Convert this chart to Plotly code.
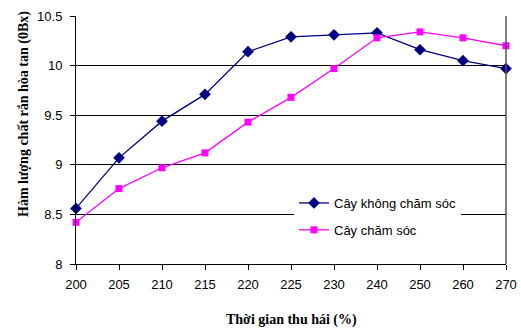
import plotly.graph_objects as go

categories = ["200", "205", "210", "215", "220", "225", "230", "240", "250", "260", "270"]
khong_cham_soc = [8.56, 9.07, 9.44, 9.71, 10.14, 10.29, 10.31, 10.33, 10.16, 10.05, 9.97]
cham_soc = [8.42, 8.76, 8.97, 9.12, 9.43, 9.68, 9.97, 10.28, 10.34, 10.28, 10.20]

L, R, T, B = 76, 15, 16, 64
W, H = 521, 328
pw, ph = W - L - R, H - T - B

fig = go.Figure()
fig.add_trace(go.Scatter(
    x=categories, y=khong_cham_soc, mode="lines+markers", name="Cây không chăm sóc",
    line=dict(color="#000080", width=1.3),
    marker=dict(symbol="diamond", size=9, color="#000080"),
    cliponaxis=False, legendgroup="a",
))
fig.add_trace(go.Scatter(
    x=categories, y=cham_soc, mode="lines+markers", name="Cây chăm sóc",
    line=dict(color="#FF00FF", width=1.3),
    marker=dict(symbol="square", size=7, color="#FF00FF"),
    cliponaxis=False, legendgroup="b",
))

fig.update_layout(
    width=W, height=H,
    margin=dict(l=L, r=R, t=T, b=B, autoexpand=False),
    paper_bgcolor="white", plot_bgcolor="white",
    font=dict(family="Liberation Sans, Arial", size=13, color="black"),
    showlegend=True,
    legend=dict(
        x=(294 - L) / pw, y=(H - B - 188) / ph, xanchor="left", yanchor="top",
        bgcolor="white", borderwidth=0, traceorder="grouped",
        font=dict(family="Liberation Sans, Arial", size=13, color="black"),
        tracegroupgap=7,
    ),
    xaxis=dict(
        type="category", range=[0, 10], automargin=False,
        showgrid=False, showline=True, linecolor="black", linewidth=1,
        ticks="outside", ticklen=5, tickcolor="black",
        tickfont=dict(size=13), ticklabelstandoff=3,
        mirror=False,
    ),
    yaxis=dict(
        range=[8, 10.5], automargin=False,
        tickvals=[8, 8.5, 9, 9.5, 10, 10.5],
        ticktext=["8", "8.5", "9", "9.5", "10", "10.5"],
        showgrid=True, gridcolor="black", gridwidth=1,
        showline=True, linecolor="black", linewidth=1,
        ticks="outside", ticklen=5, tickcolor="black",
        tickfont=dict(size=13), ticklabelstandoff=5,
        zeroline=False,
    ),
    annotations=[
        dict(text="<b>Hàm lượng chất rắn hòa tan (0Bx)</b>", xref="paper", yref="paper",
             x=(24 - L) / pw, y=(H - B - 114) / ph, xanchor="center", yanchor="middle",
             textangle=-90, showarrow=False,
             font=dict(family="Liberation Serif, Times New Roman", size=14, color="black")),
        dict(text="<b>Thời gian thu hái (%)</b>", xref="paper", yref="paper",
             x=(291 - L) / pw, y=(H - B - 320) / ph, xanchor="center", yanchor="middle",
             showarrow=False,
             font=dict(family="Liberation Serif, Times New Roman", size=14, color="black")),
    ],
)
fig.add_shape(type="line", xref="paper", yref="paper", x0=1, x1=1, y0=0, y1=1,
              line=dict(color="#555555", width=1.5))

fig.write_html("out.html", config={"displayModeBar": False},
               post_script="document.body.style.margin='0';")
